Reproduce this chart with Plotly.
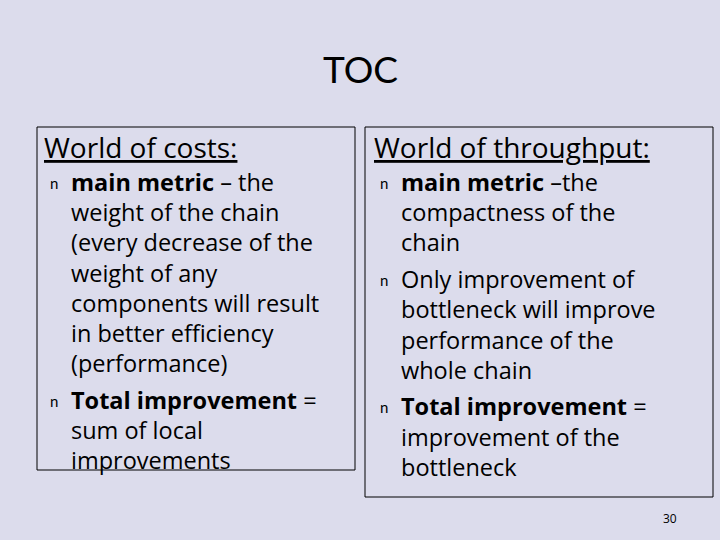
import plotly.graph_objects as go

title = "TOC"
left_heading = "World of costs:"
right_heading = "World of throughput:"

# each bullet is a list of wrapped lines
left_bullets = [
    ["<b>main metric</b> – the", "weight of the chain", "(every decrease of the",
     "weight of any", "components will result", "in better efficiency",
     "(performance)"],
    ["<b>Total improvement</b> =", "sum of local", "improvements"],
]
right_bullets = [
    ["<b>main metric</b> –the", "compactness of the", "chain"],
    ["Only improvement of", "bottleneck will improve", "performance of the",
     "whole chain"],
    ["<b>Total improvement</b> =", "improvement of the", "bottleneck"],
]
page_number = "30"

FONT = "Open Sans, sans-serif"
TITLE_FONT = "Lato, sans-serif"
fig = go.Figure()


def add_column(x0, bullets, y_start):
    y = y_start
    for lines in bullets:
        fig.add_annotation(x=x0 + 4, y=y + 1, text="n", showarrow=False,
                           xanchor="left", yanchor="middle",
                           font=dict(family=TITLE_FONT, size=15, color="black"))
        for line in lines:
            fig.add_annotation(x=x0 + 25, y=y, text=line, showarrow=False,
                               xanchor="left", yanchor="middle",
                               font=dict(family=FONT, size=23.5, color="black"))
            y += 30.2
        y += 6.5


# boxes
fig.add_shape(type="rect", x0=37, y0=127, x1=355, y1=470,
              line=dict(color="black", width=1))
fig.add_shape(type="rect", x0=365, y0=127, x1=713, y1=497,
              line=dict(color="black", width=1))

fig.add_annotation(x=360, y=68, text=title, showarrow=False,
                   font=dict(family=TITLE_FONT, size=37, color="black"))
fig.add_annotation(x=42, y=147, text="<u>" + left_heading + "</u>", showarrow=False,
                   xanchor="left", yanchor="middle",
                   font=dict(family=FONT, size=28, color="black"))
fig.add_annotation(x=372, y=147, text="<u>" + right_heading + "</u>", showarrow=False,
                   xanchor="left", yanchor="middle",
                   font=dict(family=FONT, size=28, color="black"))

add_column(44, left_bullets, 182)
add_column(374, right_bullets, 182)

fig.add_annotation(x=670, y=518, text=page_number, showarrow=False,
                   font=dict(family=FONT, size=12, color="black"))

fig.update_layout(
    width=720, height=540,
    margin=dict(l=0, r=0, t=0, b=0),
    paper_bgcolor="#dcdcec", plot_bgcolor="#dcdcec",
    xaxis=dict(range=[0, 720], visible=False, fixedrange=True),
    yaxis=dict(range=[540, 0], visible=False, fixedrange=True),
    showlegend=False,
)

fig.write_html("out.html", config=dict(displayModeBar=False),
               post_script="document.body.style.margin='0';"
                           "document.body.style.background='#dcdcec';")
